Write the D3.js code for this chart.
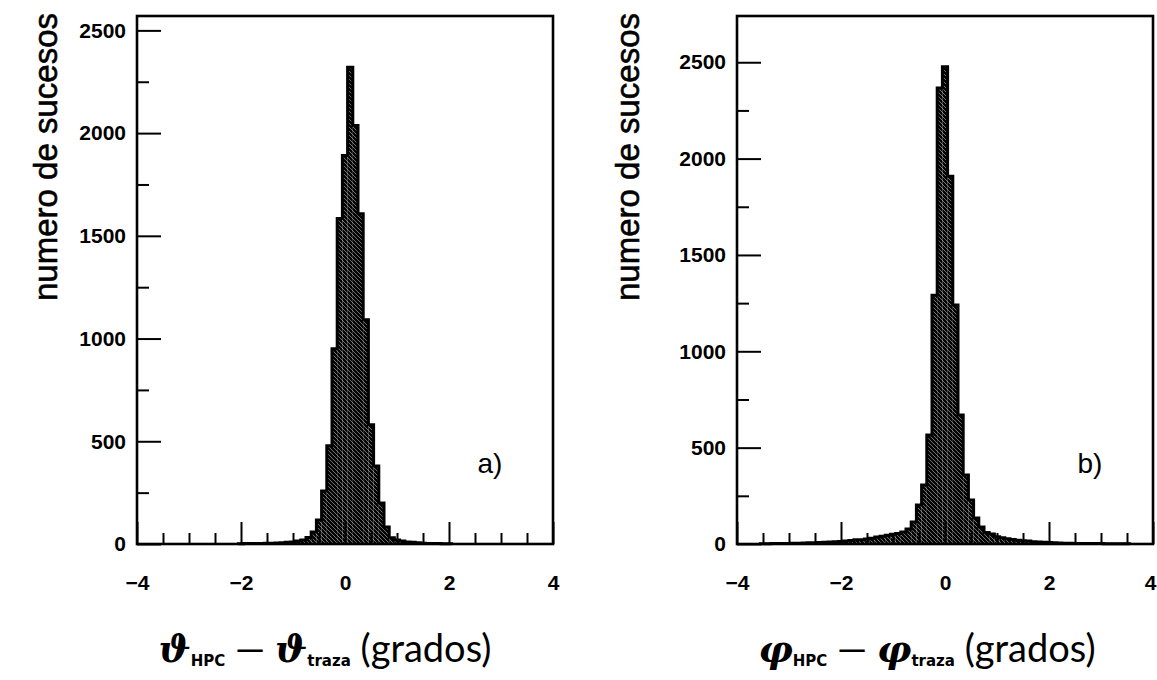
<!DOCTYPE html>
<html>
<head>
<meta charset="utf-8">
<script src="https://cdn.jsdelivr.net/npm/d3@7"></script>
<style>
  body { margin: 0; background: #fff; }
  svg { display: block; }
</style>
</head>
<body>
<div id="chart"></div>
<script>
// histogram bins, 0.1 degrees wide, listed by bin centre
const binWidth = 0.1;

const thetaStart = -2.0;
const thetaCounts = [
  1, 2, 2, 3, 3, 4, 4, 5, 6, 8,
  10, 14, 20, 32, 58, 117, 258, 478, 950, 1584,
  1891,
  2320, 2037, 1608, 1092, 580, 380, 200, 83, 30, 20,
  14, 10, 8, 6, 4, 3, 2, 2, 1, 1
];

const phiStart = -3.5;
const phiCounts = [
  1, 1, 2, 2, 2,
  3, 4, 4, 5, 6, 7, 8, 9, 10, 12,
  13, 15, 18, 22, 22, 26, 30, 36, 40, 45,
  50, 55, 62, 78, 114, 202, 306, 565, 1291, 2367,
  2476,
  1909, 1240, 669, 358, 228, 135, 88, 60, 52, 38,
  32, 27, 24, 20, 17, 15, 12, 10, 9, 8,
  6, 5, 4, 4, 3, 2, 2, 2, 2, 2,
  1, 1, 1, 1, 1
];

const xMajor = [-4, -2, 0, 2, 4];
const xMinor = [-3.5, -3, -2.5, -1.5, -1, -0.5, 0.5, 1, 1.5, 2.5, 3, 3.5];
const yMajor = [0, 500, 1000, 1500, 2000, 2500];
const yMinor = [250, 750, 1250, 1750, 2250];

const width = 1157;
const height = 680;

const svg = d3.select("#chart").append("svg")
  .attr("width", width)
  .attr("height", height);

// dense diagonal hatching like the original
const defs = svg.append("defs");
defs.append("pattern")
  .attr("id", "hatch")
  .attr("patternUnits", "userSpaceOnUse")
  .attr("width", 4)
  .attr("height", 4)
  .call(p => {
    p.append("rect").attr("width", 4).attr("height", 4).attr("fill", "#fff");
    p.append("path")
      .attr("d", "M-1,-1L5,5M-1,3L1,5M3,-1L5,1")
      .attr("stroke", "#000")
      .attr("stroke-width", 2.5);
  });

const panels = [
  { start: thetaStart, counts: thetaCounts, left: 137, right: 553, top: 16, bottom: 544, ymax: 2570,
    label: "a)", labelX: 490, titleX: 57, sym: "\u03D1", xTitleX: 325 },
  { start: phiStart, counts: phiCounts, left: 737, right: 1153, top: 16, bottom: 544, ymax: 2740,
    label: "b)", labelX: 1090, titleX: 639, sym: "\u03C6", xTitleX: 927 }
];

panels.forEach(p => {
  const x = d3.scaleLinear().domain([-4, 4]).range([p.left, p.right]);
  const y = d3.scaleLinear().domain([0, p.ymax]).range([p.bottom, p.top]);
  const g = svg.append("g");

  const bins = p.counts.map((c, i) => {
    const centre = p.start + i * binWidth;
    return { lo: centre - binWidth / 2, hi: centre + binWidth / 2, count: c };
  });

  g.append("g")
    .selectAll("rect")
    .data(bins)
    .join("rect")
      .attr("x", d => x(d.lo))
      .attr("width", d => x(d.hi) - x(d.lo))
      .attr("y", d => y(d.count))
      .attr("height", d => y(0) - y(d.count))
      .attr("fill", "url(#hatch)");

  const pts = [[bins[0].lo, 0]]
    .concat(bins.map(d => [d.lo, d.count]))
    .concat([[bins[bins.length - 1].hi, bins[bins.length - 1].count], [bins[bins.length - 1].hi, 0]]);
  const step = d3.line()
    .x(d => x(d[0]))
    .y(d => y(d[1]))
    .curve(d3.curveStepAfter);
  g.append("path")
    .attr("d", step(pts))
    .attr("fill", "none")
    .attr("stroke", "#000")
    .attr("stroke-width", 3);

  // axes, ticks pointing inwards
  const axisFont = g => g.selectAll("text")
    .style("font-family", "'Liberation Sans', Arial, sans-serif")
    .style("font-weight", "bold")
    .style("font-size", "21px")
    .attr("fill", "#000");

  g.append("g")
    .attr("transform", `translate(0,${p.bottom})`)
    .call(d3.axisBottom(x).tickValues(xMajor).tickSizeInner(-22).tickSizeOuter(0).tickPadding(31).tickFormat(d3.format("d")))
    .call(a => a.select(".domain").remove())
    .call(a => a.selectAll("line").attr("stroke", "#000").attr("stroke-width", 2))
    .call(axisFont)
    .call(a => a.selectAll("text").filter(d => x(d) > width - 12).attr("text-anchor", "end").attr("dx", width - 1 - x(4)));
  g.append("g")
    .attr("transform", `translate(0,${p.bottom})`)
    .call(d3.axisBottom(x).tickValues(xMinor).tickSizeInner(-11).tickSizeOuter(0).tickFormat(""))
    .call(a => a.select(".domain").remove())
    .call(a => a.selectAll("line").attr("stroke", "#000").attr("stroke-width", 2));

  g.append("g")
    .attr("transform", `translate(${p.left},0)`)
    .call(d3.axisLeft(y).tickValues(yMajor).tickSizeInner(-24).tickSizeOuter(0).tickPadding(11).tickFormat(d3.format("d")))
    .call(a => a.select(".domain").remove())
    .call(a => a.selectAll("line").attr("stroke", "#000").attr("stroke-width", 2))
    .call(axisFont);
  g.append("g")
    .attr("transform", `translate(${p.left},0)`)
    .call(d3.axisLeft(y).tickValues(yMinor).tickSizeInner(-12).tickSizeOuter(0).tickFormat(""))
    .call(a => a.select(".domain").remove())
    .call(a => a.selectAll("line").attr("stroke", "#000").attr("stroke-width", 2));

  g.append("rect")
    .attr("x", p.left)
    .attr("y", p.top)
    .attr("width", p.right - p.left)
    .attr("height", p.bottom - p.top)
    .attr("fill", "none")
    .attr("stroke", "#000")
    .attr("stroke-width", 2.6);

  g.append("text")
    .attr("x", p.labelX)
    .attr("y", 473)
    .attr("text-anchor", "middle")
    .style("font-family", "'Liberation Sans', Arial, sans-serif")
    .style("font-size", "28px")
    .text(p.label);

  g.append("text")
    .attr("transform", `translate(${p.titleX},${157}) rotate(-90)`)
    .attr("text-anchor", "middle")
    .style("font-family", "'Liberation Sans', Arial, sans-serif")
    .style("font-size", "33px")
    .style("stroke", "#000")
    .style("stroke-width", 0.6)
    .text("numero de sucesos");

  const t = g.append("text")
    .attr("x", p.xTitleX)
    .attr("y", 662)
    .attr("text-anchor", "middle")
    .style("font-family", "Lato, 'DejaVu Sans', sans-serif")
    .style("font-size", "38px");
  t.append("tspan").style("font-style", "italic").style("font-weight", "bold")
    .style("font-family", "'DejaVu Serif', serif").text(p.sym);
  t.append("tspan").attr("dy", 4).style("font-size", "15px").style("font-weight", "bold")
    .style("font-family", "'DejaVu Sans', sans-serif").text("HPC");
  t.append("tspan").attr("dy", -4).text(" \u2014 ");
  t.append("tspan").style("font-style", "italic").style("font-weight", "bold")
    .style("font-family", "'DejaVu Serif', serif").text(p.sym);
  t.append("tspan").attr("dy", 4).style("font-size", "15px").style("font-weight", "bold")
    .style("font-family", "'DejaVu Sans', sans-serif").text("traza");
  t.append("tspan").attr("dy", -4).text(" (grados)");
});
</script>
</body>
</html>
